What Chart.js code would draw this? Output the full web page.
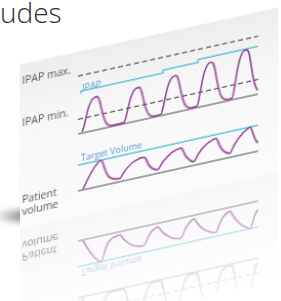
<!DOCTYPE html>
<html>
<head>
<meta charset="utf-8">
<script src="https://cdn.jsdelivr.net/npm/chart.js@4.4.1/dist/chart.umd.min.js"></script>
<style>
  html, body { margin: 0; padding: 0; background: #fff; width: 281px; height: 301px; overflow: hidden; }
  #heading { position: absolute; left: 0; top: -2px; font: 300 28px/28px "Open Sans", sans-serif; color: #2e2e2e; }
  #scene { position: absolute; left: 0; top: 0; width: 281px; height: 340px; transform-origin: 78px 0; transform: skewY(-12.5deg); }
  #card { position: absolute; left: 20px; top: 52px; width: 258px; height: 164px;
          background: linear-gradient(#ededed, #f7f7f7 35%, #fbfbfb); box-shadow: 0 0 2px rgba(0,0,0,0.07); }
  #mirrorCard { position: absolute; left: 20px; top: 216px; width: 258px; height: 110px;
          background: linear-gradient(#f7f7f7, rgba(255,255,255,0)); }
  #chart { position: absolute; left: 20px; top: 52px; }
  #mirror { position: absolute; left: 20px; top: 216px; }
  #shade { position: absolute; left: -8px; top: 206px; width: 40px; height: 20px;
           background: radial-gradient(ellipse at 88% 50%, #7a7a7a, rgba(150,150,150,0) 70%); filter: blur(2px); }
</style>
</head>
<body>
<div id="heading">udes</div>
<div id="shade"></div>
<div id="scene">
  <div id="card"></div>
  <div id="mirrorCard"></div>
  <canvas id="chart" width="258" height="164"></canvas>
  <canvas id="mirror" width="258" height="110"></canvas>
</div>
<script>
// time axis runs 0..180 across the card
var span = [0, 180];

// pressure panel (IPAP)
var ipapMax = 63;
var ipapMin = 16;
var ipapStepT = [3, 85, 120, 156, 180];
var ipapStepV = [43, 46, 49, 52, 52];
var pressureT = [4, 6, 8, 10, 12, 14, 16, 18, 20, 22, 24, 26, 28, 31, 35,
                 46, 48, 50, 52, 54, 56, 58, 60, 62, 64, 66, 68, 70, 73, 77,
                 83, 85, 87, 89, 91, 93, 95, 97, 99, 101, 103, 105, 107, 110, 114,
                 119, 121, 123, 125, 127, 129, 131, 133, 135, 137, 139, 141, 143, 146, 150,
                 154, 156, 158, 160, 162, 164, 166, 168, 170, 172, 174, 176, 178, 180];
var pressure = [1.5, 7, 16, 24.5, 30, 34, 35.5, 36, 35, 29, 19, 11, 5.5, 2, 1,
                1.5, 7, 16, 24.5, 30, 34, 35.5, 36, 35, 29, 19, 11, 5.5, 2, 1,
                1.6, 8, 18, 27, 33.5, 37.5, 39.5, 40, 39, 32, 21, 12, 6, 2.4, 1.2,
                1.8, 9, 20.5, 31, 38.5, 43, 45.5, 46, 44.5, 37, 24, 14, 7, 2.8, 1.4,
                2, 10, 23, 34.5, 43, 48, 50.5, 51, 49.5, 41, 26.5, 15, 7.5, 4];

// volume panel
var targetVolume = 28;
var volumeT = [5, 8, 11, 14, 17, 20, 23, 25, 27, 29, 31, 34, 38, 42,
               45, 48, 51, 54, 57, 60, 63, 66, 68, 70, 72, 74, 77, 80,
               83, 86, 89, 92, 95, 98, 101, 103, 105, 107, 109, 111, 113, 116,
               119, 122, 125, 128, 131, 134, 136, 138, 140, 142, 144, 146, 149, 152,
               155, 158, 161, 164, 167, 170, 172, 174, 176, 178, 180];
var volume = [1, 7, 13, 18, 22.5, 26, 28, 24, 17, 11.5, 8, 5.5, 4, 3.5,
              8, 12, 15, 17.5, 19, 20.2, 20.8, 21, 18, 13, 9.5, 7, 5, 4,
              8.5, 12.5, 15.5, 18, 19.8, 21, 21.8, 22, 18.5, 13.5, 10, 7.5, 5.5, 4,
              9, 13.5, 17, 19.5, 21.5, 23, 23.7, 24, 20, 14.5, 10.5, 8, 5.5, 4.5,
              10, 15, 19, 22.5, 25, 27, 28, 24, 17, 12, 9];

// axis labels
var pressureTicks = [70.5, 24.5];
var pressureTickLabels = ['IPAP max.', 'IPAP min.'];
var volumeTicks = [-3];
var volumeTickLabels = [['Patient', 'volume']];

var purple = '#923f95';
var cyan = '#5cc3d6';
var ink = '#4a4a4a';
var labelBlue = '#5b97d2';

function pts(t, v) {
    return t.map(function (x, i) { return { x: x, y: v[i] }; });
}

function flat(v) {
    return [{ x: span[0], y: v }, { x: span[1], y: v }];
}

var labelPlugin = {
    id: 'labels',
    afterDatasetsDraw: function (chart) {
        var c = chart.ctx, sx = chart.scales.x;
        c.save();
        c.fillStyle = labelBlue;
        c.font = '9px "Open Sans"';
        c.textBaseline = 'bottom';
        c.fillText('IPAP', sx.getPixelForValue(4), chart.scales.yp.getPixelForValue(ipapStepV[0] + 1));
        c.fillText('Target Volume', sx.getPixelForValue(3), chart.scales.yv.getPixelForValue(targetVolume + 2));
        c.restore();
    },
    afterRender: function (chart) {
        var m = document.getElementById('mirror');
        var mc = m.getContext('2d');
        mc.clearRect(0, 0, m.width, m.height);
        mc.save();
        mc.scale(1, -1);
        mc.drawImage(chart.canvas, 0, -chart.canvas.height);
        mc.restore();
        mc.save();
        mc.globalCompositeOperation = 'destination-in';
        var g = mc.createLinearGradient(0, 0, 0, m.height);
        g.addColorStop(0, 'rgba(0,0,0,0.75)');
        g.addColorStop(0.5, 'rgba(0,0,0,0.35)');
        g.addColorStop(1, 'rgba(0,0,0,0.06)');
        mc.fillStyle = g;
        mc.fillRect(0, 0, m.width, m.height);
        mc.restore();
    }
};

function yAxis(weight, lo, hi, ticks, labels) {
    return {
        type: 'linear',
        position: 'left',
        stack: 'panels',
        stackWeight: weight,
        min: lo,
        max: hi,
        grid: { display: false },
        border: { display: false },
        afterBuildTicks: function (s) { s.ticks = ticks.map(function (v) { return { value: v }; }); },
        afterFit: function (s) { s.width = 56; },
        ticks: {
            crossAlign: 'far',
            padding: 0,
            color: '#5a5a5a',
            font: { family: '"Open Sans"', size: 10.5, lineHeight: 1.15 },
            callback: function (v, i) { return labels[i]; }
        }
    };
}

// left stacked axes are laid out last-defined first, so volume goes in before pressure
new Chart(document.getElementById('chart'), {
    type: 'line',
    data: {
        datasets: [
            { data: pts(pressureT, pressure), yAxisID: 'yp', borderColor: purple, borderWidth: 1.6, cubicInterpolationMode: 'monotone' },
            { data: pts(volumeT, volume), yAxisID: 'yv', borderColor: purple, borderWidth: 1.6, cubicInterpolationMode: 'monotone' },
            { data: pts(ipapStepT, ipapStepV), yAxisID: 'yp', borderColor: cyan, borderWidth: 1.5, stepped: 'after' },
            { data: flat(targetVolume), yAxisID: 'yv', borderColor: cyan, borderWidth: 1.5 },
            { data: flat(ipapMax), yAxisID: 'yp', borderColor: '#555', borderWidth: 1.2, borderDash: [5, 3] },
            { data: flat(ipapMin), yAxisID: 'yp', borderColor: '#555', borderWidth: 1.2, borderDash: [5, 3] },
            { data: flat(0), yAxisID: 'yp', borderColor: ink, borderWidth: 1.1 },
            { data: flat(0), yAxisID: 'yv', borderColor: ink, borderWidth: 1.1 }
        ]
    },
    options: {
        responsive: false,
        animation: false,
        devicePixelRatio: 1,
        layout: { padding: { left: 2, right: 20, top: 8, bottom: 4 } },
        elements: { point: { radius: 0 } },
        plugins: { legend: { display: false }, tooltip: { enabled: false } },
        scales: {
            x: { type: 'linear', min: span[0], max: span[1], display: false },
            yv: yAxis(72, -14, 58, volumeTicks, volumeTickLabels),
            yp: yAxis(80, -4, 76, pressureTicks, pressureTickLabels)
        }
    },
    plugins: [labelPlugin]
});
</script>
</body>
</html>
